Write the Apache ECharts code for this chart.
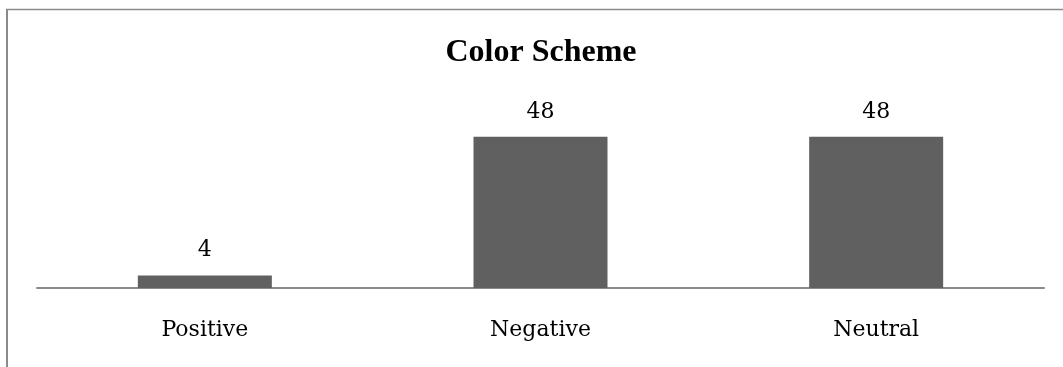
<!DOCTYPE html>
<html>
<head>
<meta charset="utf-8">
<script src="https://cdn.jsdelivr.net/npm/echarts@6/dist/echarts.min.js"></script>
<style>
html,body{margin:0;padding:0;background:#fff;}
#main{width:1063px;height:367px;}
</style>
</head>
<body>
<div id="main"></div>
<script>
const titleText = "Color Scheme";
const categories = ["Positive", "Negative", "Neutral"];
const values = [4, 48, 48];

const chart = echarts.init(document.getElementById('main'), null, {renderer: 'canvas'});
chart.setOption({
  animation: false,
  backgroundColor: '#ffffff',
  title: {
    text: titleText,
    left: 536,
    textAlign: 'center',
    top: 32,
    textStyle: {fontFamily: 'Liberation Serif', fontWeight: 'bold', fontSize: 32, color: '#000'}
  },
  graphic: [
    {type: 'line', shape: {x1: 7, y1: 9, x2: 7, y2: 367}, style: {stroke: '#8a8a8a', lineWidth: 2}},
    {type: 'line', shape: {x1: 6, y1: 9.5, x2: 1063, y2: 9.5}, style: {stroke: '#8a8a8a', lineWidth: 1.5}}
  ],
  grid: {left: 37, right: 19, top: 99, bottom: 79, containLabel: false},
  xAxis: {
    type: 'category',
    data: categories,
    axisLine: {lineStyle: {color: '#8a8a8a', width: 2}},
    axisTick: {show: false},
    axisLabel: {fontFamily: 'DejaVu Serif', fontSize: 22, color: '#000', margin: 31}
  },
  yAxis: {
    type: 'value', min: 0, max: 60,
    show: false,
    splitLine: {show: false}
  },
  series: [{
    type: 'bar',
    data: values,
    barWidth: 134,
    itemStyle: {color: '#606060'},
    label: {show: true, position: 'top', distance: 14, fontFamily: 'DejaVu Serif', fontSize: 22, color: '#000'}
  }]
});
</script>
</body>
</html>
